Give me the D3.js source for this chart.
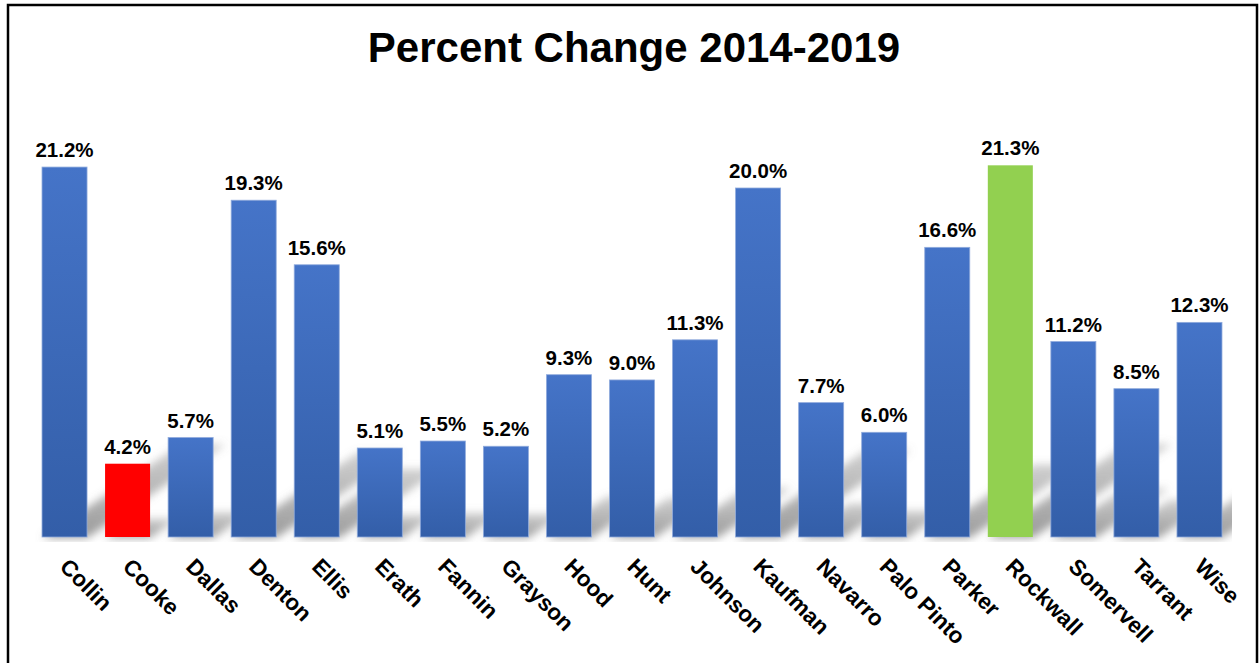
<!DOCTYPE html>
<html><head><meta charset="utf-8">
<script src="https://cdn.jsdelivr.net/npm/d3@7"></script>
<style>body{margin:0;background:#fff}svg{display:block}</style>
</head><body>
<script>
const categories = ["Collin","Cooke","Dallas","Denton","Ellis","Erath","Fannin","Grayson","Hood","Hunt","Johnson","Kaufman","Navarro","Palo Pinto","Parker","Rockwall","Somervell","Tarrant","Wise"];
const values = [21.2,4.2,5.7,19.3,15.6,5.1,5.5,5.2,9.3,9.0,11.3,20.0,7.7,6.0,16.6,21.3,11.2,8.5,12.3];
const highlight = {"Cooke":"#FF0000","Rockwall":"#92D050"};
const title = "Percent Change 2014-2019";

const W=1260,H=663;
const svg=d3.select("body").append("svg").attr("width",W).attr("height",H);
const defs=svg.append("defs");
const g1=defs.append("linearGradient").attr("id","blueGrad").attr("x1",0).attr("y1",0).attr("x2",0).attr("y2",1);
g1.append("stop").attr("offset","0%").attr("stop-color","#4574C8");
g1.append("stop").attr("offset","100%").attr("stop-color","#335EA8");
const sg=defs.append("linearGradient").attr("id","shGrad").attr("x1",0).attr("y1",1).attr("x2",0).attr("y2",0);
sg.append("stop").attr("offset","0%").attr("stop-color","#7a7a7a").attr("stop-opacity",0.75);
sg.append("stop").attr("offset","100%").attr("stop-color","#7a7a7a").attr("stop-opacity",0.35);
defs.append("filter").attr("id","blur").attr("x","-20%").attr("y","-20%").attr("width","140%").attr("height","140%")
  .append("feGaussianBlur").attr("stdDeviation",4);
defs.append("clipPath").attr("id","plotClip").append("rect").attr("x",20).attr("y",100).attr("width",1212).attr("height",442);

svg.append("rect").attr("x",8).attr("y",5).attr("width",1249).attr("height",670)
  .attr("fill","#fff").attr("stroke","#000").attr("stroke-width",2.5);

svg.append("text").attr("x",634).attr("y",62).attr("text-anchor","middle")
  .attr("font-family","Liberation Sans, Arial, sans-serif").attr("font-weight","bold").attr("font-size",42)
  .attr("fill","#000").text(title);

const x=d3.scaleBand().domain(categories).range([33,1231]).paddingInner(0.286).paddingOuter(0.143);
const y=d3.scaleLinear().domain([0,24]).range([537,118.2]);
const base=y(0);

// perspective shadows
const shG=svg.append("g").attr("clip-path","url(#plotClip)").append("g").attr("filter","url(#blur)");
categories.forEach((c,i)=>{
  const x0=x(c),x1=x0+x.bandwidth();
  const h=(base-y(values[i]))*0.25;
  const d=h*1.5;
  shG.append("path").attr("d",`M${x0},${base+1}L${x1},${base+1}L${x1+d},${base-h}L${x0+d},${base-h}Z`)
    .attr("fill","url(#shGrad)");
});

svg.append("g").selectAll("rect").data(categories).join("rect")
  .attr("x",c=>x(c)).attr("width",x.bandwidth())
  .attr("y",(c,i)=>y(values[i])).attr("height",(c,i)=>base-y(values[i]))
  .attr("fill",c=>highlight[c]||"url(#blueGrad)")
  .attr("stroke",c=>highlight[c]?"none":"#8FAADC").attr("stroke-width",0.8);

svg.append("g").selectAll("text").data(categories).join("text")
  .attr("x",c=>x(c)+x.bandwidth()/2).attr("y",(c,i)=>y(values[i])-10)
  .attr("text-anchor","middle").attr("font-family","Liberation Sans, Arial, sans-serif")
  .attr("font-weight","bold").attr("font-size",20.5).attr("fill","#000")
  .text((c,i)=>values[i].toFixed(1)+"%");

const xAxis=d3.axisBottom(x).tickSize(0).tickPadding(0);
const ax=svg.append("g").attr("transform",`translate(0,${base})`).call(xAxis);
ax.select(".domain").remove();
ax.selectAll(".tick text")
  .attr("font-family","Liberation Sans, Arial, sans-serif").attr("font-weight","bold").attr("font-size",22.5).attr("fill","#000")
  .attr("text-anchor","start").attr("dy",null).attr("y",0).attr("x",0)
  .attr("transform","translate(-6,31) rotate(45)");
</script>
</body></html>
